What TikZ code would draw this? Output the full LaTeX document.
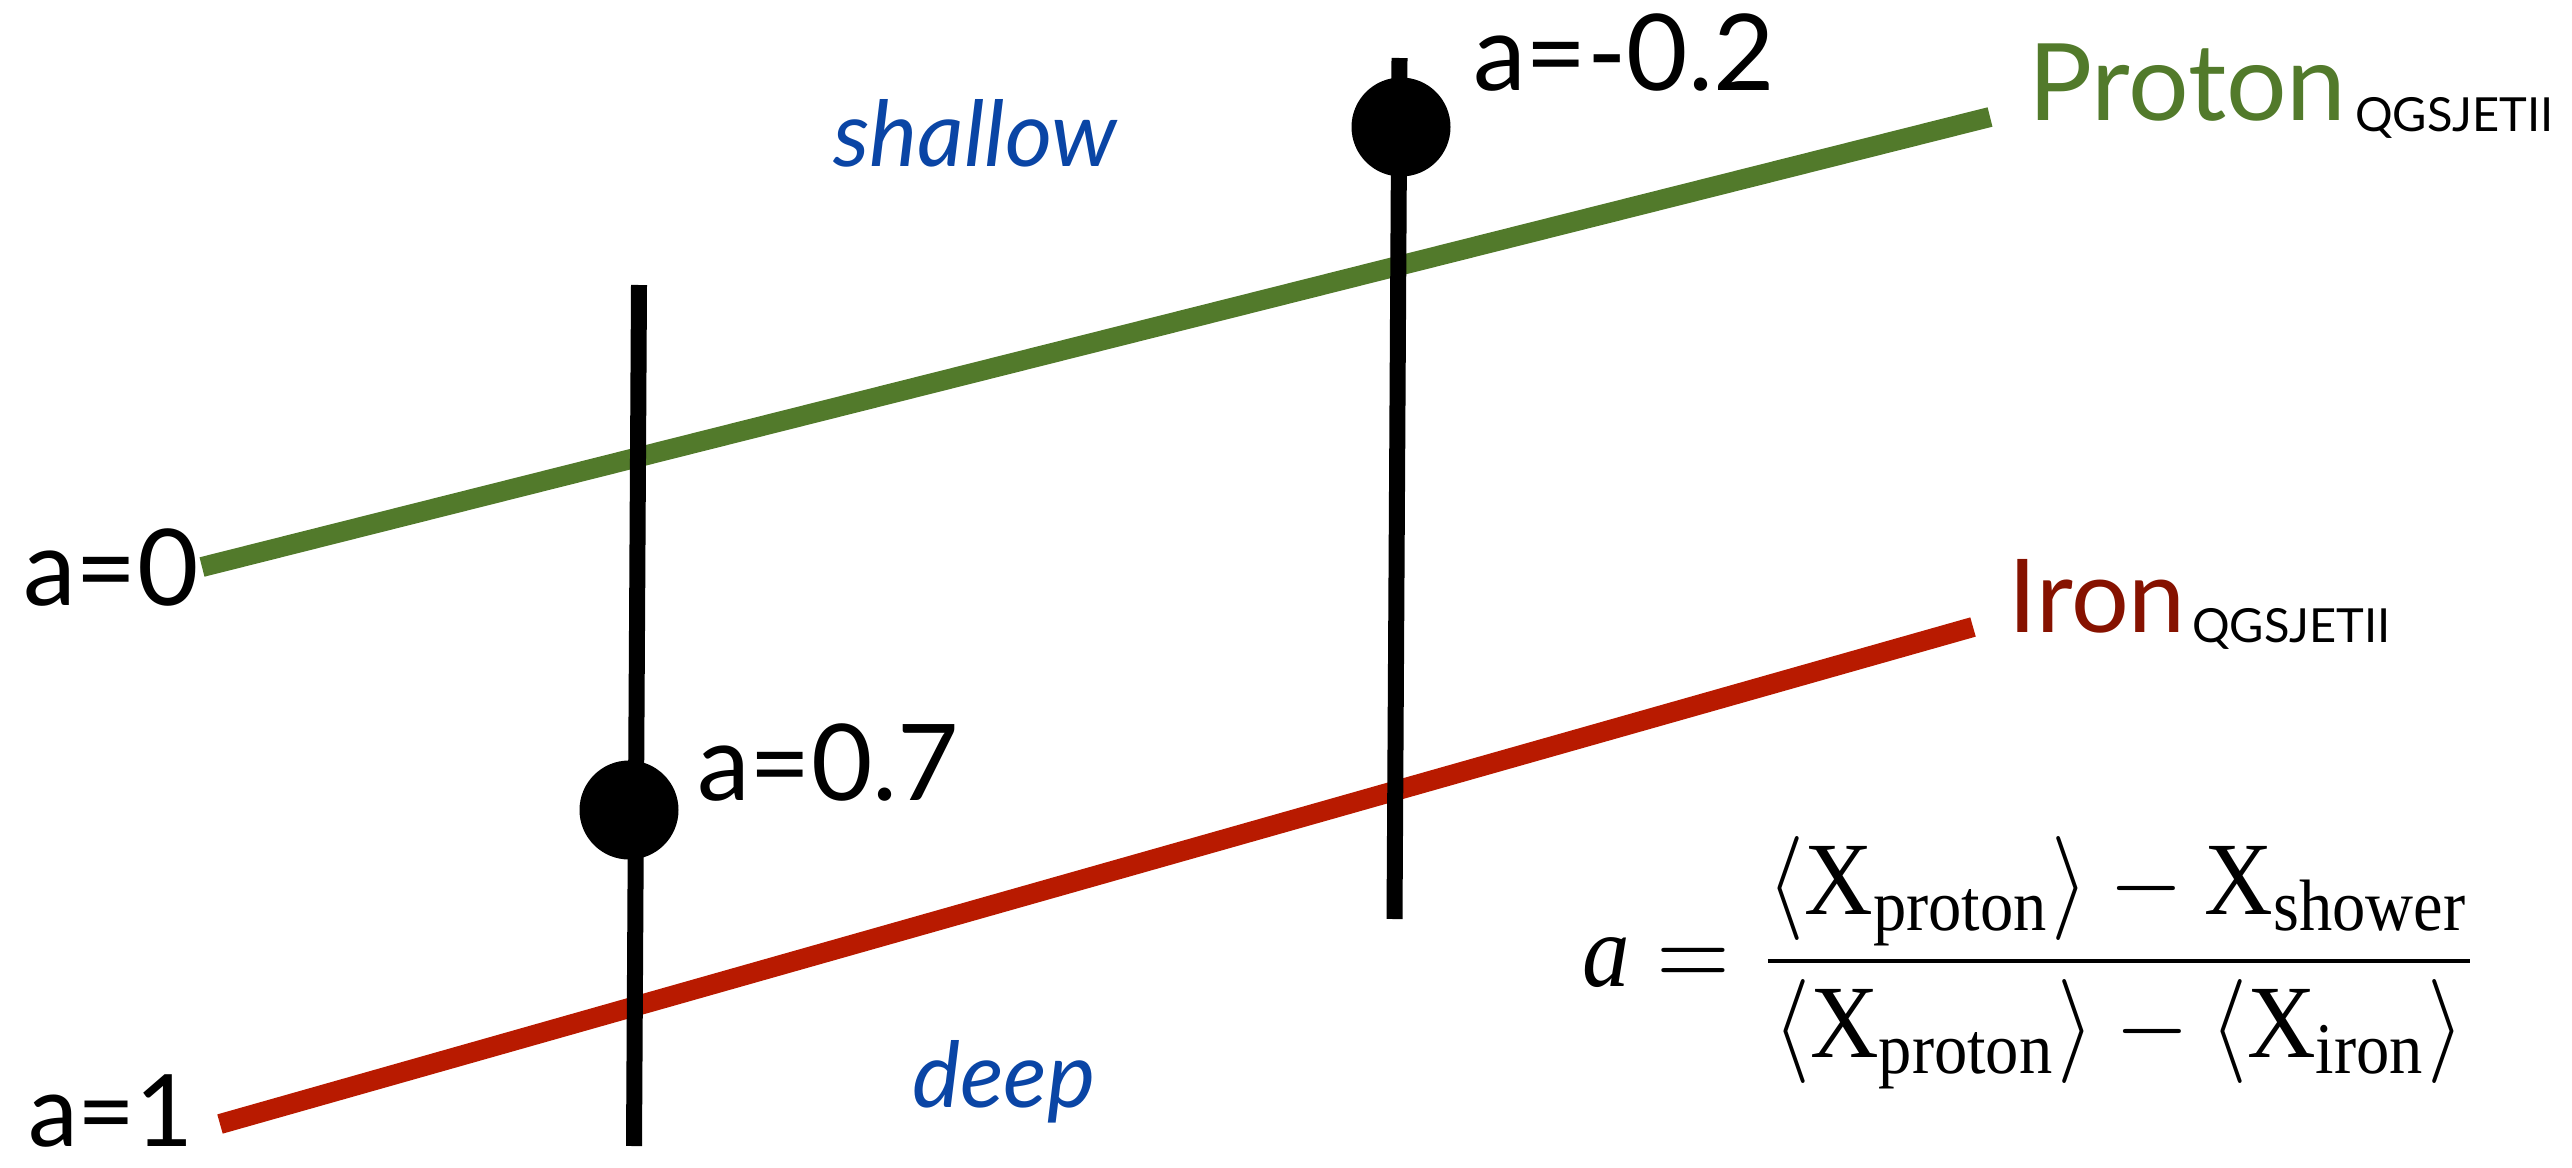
\documentclass[tikz,border=0pt]{standalone}
\usepackage{fontspec}
\usepackage{graphicx}
\setmainfont{Lato}
\newfontfamily\tms{Liberation Serif}
\definecolor{pgreen}{HTML}{527A2B}
\definecolor{fered}{HTML}{B81A00}
\definecolor{fetext}{HTML}{861200}
\definecolor{lblue}{HTML}{0A45A5}
\tikzset{
  lbl/.style={anchor=base west, inner sep=0pt, font=\fontsize{106}{110}\selectfont},
  reg/.style={anchor=base west, inner sep=0pt, text=lblue, font=\fontsize{91}{100}\selectfont\itshape},
  big/.style={anchor=base west, inner sep=0pt, font=\fontsize{107}{110}\selectfont},
  sub/.style={anchor=base west, inner sep=0pt, font=\fontsize{47}{50}\selectfont},
  track/.style={line width=20pt, line cap=butt},
  axis/.style={line width=16pt, line cap=butt, black},
  dot/.style={circle, fill=black, minimum size=99pt, inner sep=0pt}
}
\begin{document}
\begin{tikzpicture}[x=1pt,y=-1pt]
\useasboundingbox (0,0) rectangle (2572,1167);
% track end points
\coordinate (p0) at (202,567);
\coordinate (p1) at (1990,117);
\coordinate (f0) at (220,1124);
\coordinate (f1) at (1973,627);
\coordinate (v1t) at (639,285);
\coordinate (v1b) at (634,1146);
\coordinate (v2t) at (1399.5,58);
\coordinate (v2b) at (1394.5,919);
\draw[track, pgreen] (p0) -- (p1);
\draw[track, fered] (f0) -- (f1);
\draw[axis] (v1t) -- (v1b);
\draw[axis] (v2t) -- (v2b);
\node[dot] (d1) at (629,810) {};
\node[dot] (d2) at (1401,127) {};
% labels
\node[lbl] (l0) at (23,605) {a=0};
\node[lbl, font=\fontsize{100}{110}\selectfont, text depth=0pt] (l1) at (28,1146) {a=1};
\node[lbl] (l07) at (697,800) {a=0.7};
\node[lbl] (l02) at (1473,90) {a=-0.2};
\node[reg] (sh) at (833,166) {shallow};
\node[reg] (dp) at (912,1107) {deep};
\node[big, text=pgreen] (pr) at (2028,120) {Proton};
\node[sub] (prs) at (2355,131) {QGSJETII};
\node[big, text=fetext, font=\fontsize{102}{110}\selectfont] (fe) at (2008,632) {Iron};
\node[sub] (fes) at (2192,642) {QGSJETII};
% formula
\node[anchor=west, inner sep=0pt] (eq) at (1582,963) {\scalebox{9.5}[10.4]{$\displaystyle \hbox{\tms\itshape a} = \frac{\left\langle \hbox{\tms X}_{\hbox{\tms\scriptsize proton}}\right\rangle - \hbox{\tms X}_{\hbox{\tms\scriptsize shower}}}{\left\langle \hbox{\tms X}_{\hbox{\tms\scriptsize proton}}\right\rangle - \left\langle\hbox{\tms X}_{\hbox{\tms\scriptsize iron}}\right\rangle}$}};
\end{tikzpicture}
\end{document}
